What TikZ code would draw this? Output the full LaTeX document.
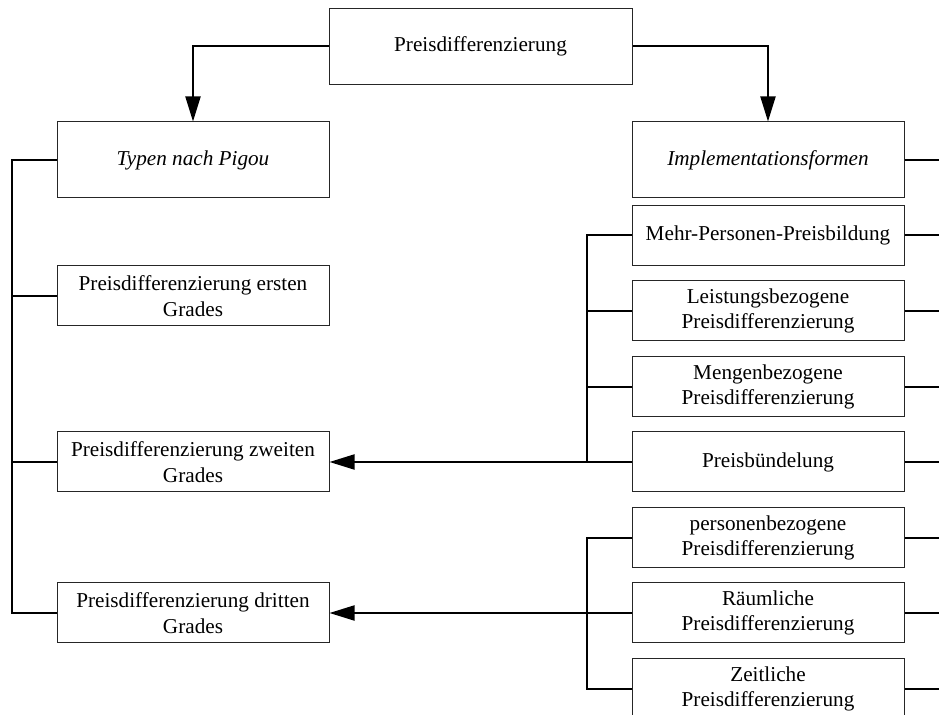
\documentclass[tikz,border=0pt]{standalone}
\usepackage{fontspec}
\setmainfont{Liberation Serif}
\usetikzlibrary{arrows.meta}
\begin{document}
\begin{tikzpicture}[x=0.5pt,y=-0.5pt,
  box/.style={draw=black!85,line width=0.5pt,fill=white,inner sep=0pt,
    align=center,minimum width=136pt,font=\fontsize{10.6}{12.7}\selectfont},
  tall/.style={minimum height=38pt},
  flat/.style={minimum height=30pt},
  conn/.style={line width=1pt,line join=miter},
  arr/.style={conn,-{Triangle[length=12.5pt,width=7.5pt]}}]
\useasboundingbox (0,0) rectangle (939,715);
\clip (0,0) rectangle (939,715);

% top level
\node[box,tall,minimum width=151.5pt] (top) at (480.5,46.5) {Preisdifferenzierung};

% left column: types after Pigou
\node[box,tall] (pigou) at (193,160) {\itshape Typen nach Pigou};
\node[box,flat] (ersten) at (193,296) {Preisdifferenzierung ersten\\Grades};
\node[box,flat] (zweiten) at (193,462) {Preisdifferenzierung zweiten\\Grades};
\node[box,flat] (dritten) at (193,613) {Preisdifferenzierung dritten\\Grades};

% right column: forms of implementation
\node[box,tall] (impl) at (768,160) {\itshape Implementationsformen};
\node[box,flat] (mehr) at (768,235.5) {Mehr-Personen-Preisbildung};
\node[box,flat] (leist) at (768,311) {Leistungsbezogene\\Preisdifferenzierung};
\node[box,flat] (mengen) at (768,387) {Mengenbezogene\\Preisdifferenzierung};
\node[box,flat] (buendel) at (768,462) {Preisbündelung};
\node[box,flat] (person) at (768,538) {personenbezogene\\Preisdifferenzierung};
\node[box,flat] (raum) at (768,613) {Räumliche\\Preisdifferenzierung};
\node[box,flat] (zeit) at (768,689) {Zeitliche\\Preisdifferenzierung};

% bus positions and the right margin
\coordinate (busL) at (12,0);
\coordinate (busR) at (587,0);
\coordinate (edge) at (945,0);

% from the top box down to both column heads
\draw[arr] (top.west) -| (pigou.north);
\draw[arr] (top.east) -| (impl.north);

% left bus
\draw[conn] (pigou.west) -| (busL |- dritten.west) -- (dritten.west);
\draw[conn] (busL |- ersten.west) -- (ersten.west);
\draw[conn] (busL |- zweiten.west) -- (zweiten.west);

% upper right group feeds second degree
\draw[conn] (mehr.west) -| (busR |- buendel.west) -- (buendel.west);
\draw[conn] (busR |- leist.west) -- (leist.west);
\draw[conn] (busR |- mengen.west) -- (mengen.west);
\draw[arr] (busR |- zweiten.east) -- (zweiten.east);

% lower right group feeds third degree
\draw[conn] (person.west) -| (busR |- zeit.west) -- (zeit.west);
\draw[conn] (busR |- raum.west) -- (raum.west);
\draw[arr] (busR |- dritten.east) -- (dritten.east);

% stubs leaving to the right
\foreach \n in {impl,mehr,leist,mengen,buendel,person,raum,zeit}
  \draw[conn] (\n.east) -- (\n.east -| edge);
\end{tikzpicture}
\end{document}
